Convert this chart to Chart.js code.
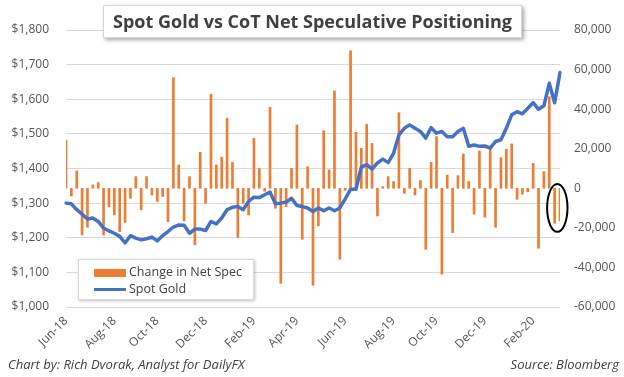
<!DOCTYPE html>
<html>
<head>
<meta charset="utf-8">
<script src="https://cdn.jsdelivr.net/npm/chart.js@4.4.1/dist/chart.umd.min.js"></script>
<style>
  html, body { margin: 0; padding: 0; background: #fff; }
  #wrap { position: relative; width: 624px; height: 377px; overflow: hidden; font-family: 'Open Sans', sans-serif; }
  #c { position: absolute; left: 0; top: 0; }
  .title {
    position: absolute; left: 103px; top: 5px; width: 417px; height: 31px;
    background: #fff; border: 1px solid #d6d6d6; box-shadow: 2px 2px 4px rgba(0,0,0,0.35);
    color: #404040; font-weight: 700; font-size: 18px; line-height: 31px; text-align: center; white-space: nowrap;
  }
  .legend {
    position: absolute; left: 78px; top: 259px; width: 174px; height: 39px;
    background: #fff; border: 1px solid #d9d9d9; box-shadow: 1px 1px 3px rgba(0,0,0,0.25);
    color: #404040; font-size: 12.5px;
  }
  .legend .row { position: absolute; left: 15px; height: 18px; line-height: 18px; white-space: nowrap; }
  .legend .sw { display: inline-block; width: 32px; vertical-align: middle; margin-right: 3px; }
  .footer { position: absolute; top: 355px; font-size: 13px; font-style: italic; color: #404040; white-space: nowrap; }
</style>
</head>
<body>
<div id="wrap">
  <canvas id="c" width="624" height="377"></canvas>
  <div class="title">Spot Gold vs CoT Net Speculative Positioning</div>
  <div class="legend" id="legend"></div>
  <div class="footer" style="left:8px">Chart by: Rich Dvorak, Analyst for DailyFX</div>
  <div class="footer" style="right:5px">Source: Bloomberg</div>
</div>
<script>
/* ── Data ───────────────────────────────────────────────────── */
const firstWeek = '2018-06-05';   // weekly CoT reports, Tuesdays
const tickLabels = ['Jun-18', 'Aug-18', 'Oct-18', 'Dec-18', 'Feb-19', 'Apr-19',
                    'Jun-19', 'Aug-19', 'Oct-19', 'Dec-19', 'Feb-20'];

// Change in net speculative positioning (contracts), right axis
const netSpec = [
  24400, -3900, 8800, -23600, -19700, 1700, 2900, -23600, -9300, -13500,
  -21900, -17300, -5100, 5900, -10900, 5900, -3400, -6700, -4200, -16800,
  55900, 11800, -16500, 5900, -28600, 18200, -7600, 47500, 11800, 15700,
  35400, 13100, -24900, -7600, -13500, 25300, 10100, -1500, 40900, -10100,
  -48000, -9300, 10100, 32000, -25800, 10900, -49000, -19000, 29100, 9300,
  49200, -35900, -1000, 69500, 28300, 20200, 32300, 22700, -14000, 800,
  5900, 3400, 38200, -2500, 10100, -3400, 3900, -30800, 13100, 26100,
  -43400, 6700, -22400, 6400, 17300, 3400, -13100, 18900, -14600, 19900,
  -19700, 15500, 19700, 22400, -5600, -3000, -1700, 12600, -30300, 8400,
  46300, -17700, -16500
];

// Spot gold (USD/oz), left axis
const spotGold = [
  1300, 1298, 1281, 1268, 1254, 1257, 1247, 1228, 1220, 1213,
  1204, 1185, 1206, 1199, 1194, 1197, 1202, 1191, 1206, 1218,
  1231, 1237, 1236, 1213, 1225, 1225, 1221, 1247, 1240, 1257,
  1281, 1288, 1290, 1281, 1305, 1317, 1316, 1324, 1332, 1298,
  1300, 1303, 1314, 1293, 1290, 1286, 1276, 1286, 1278, 1286,
  1278, 1286, 1312, 1340, 1340, 1404, 1411, 1398, 1416, 1427,
  1417, 1444, 1497, 1516, 1526, 1516, 1507, 1488, 1518, 1502,
  1507, 1492, 1492, 1507, 1516, 1464, 1468, 1464, 1465, 1459,
  1478, 1483, 1516, 1555, 1564, 1558, 1574, 1590, 1571, 1581,
  1646, 1590, 1677
];

// Last two weeks circled on the chart
const circled = [91, 92];
const circledRange = [-22000, 2200];

/* ── Weekly category labels ─────────────────────────────────── */
const MONTHS = ['Jan','Feb','Mar','Apr','May','Jun','Jul','Aug','Sep','Oct','Nov','Dec'];
const weeks = [];
for (let i = 0; i < netSpec.length; i++) {
  const d = new Date(firstWeek + 'T00:00:00Z');
  d.setUTCDate(d.getUTCDate() + 7 * i);
  weeks.push(d);
}
const labels = weeks.map(d => d.toISOString().slice(0, 10));

function tickFor(i) {
  const d = weeks[i];
  if (d.getUTCDate() > 7 && i !== 0) return '';
  const lbl = MONTHS[d.getUTCMonth()] + '-' + String(d.getUTCFullYear()).slice(2);
  return tickLabels.includes(lbl) ? lbl : '';
}

/* ── Colours ────────────────────────────────────────────────── */
const ORANGE = '#ED7D31';
const BLUE   = '#4472C4';
const TEXT   = '#555555';
const GRID   = '#D9D9D9';

document.getElementById('legend').innerHTML = `
  <div class="row" style="top:3px"><span class="sw" style="height:8px;background:${ORANGE}"></span>Change in Net Spec</div>
  <div class="row" style="top:20px"><span class="sw" style="height:3.5px;background:${BLUE}"></span>Spot Gold</div>`;

/* ── Ellipse around the latest readings ─────────────────────── */
const circlePlugin = {
  id: 'circle',
  afterDatasetsDraw(chart) {
    const x = chart.scales.x, y1 = chart.scales.y1, ctx = chart.ctx;
    const xa = x.getPixelForValue(circled[0]), xb = x.getPixelForValue(circled[1]);
    const ya = y1.getPixelForValue(circledRange[1]), yb = y1.getPixelForValue(circledRange[0]);
    ctx.save();
    ctx.beginPath();
    ctx.ellipse((xa + xb) / 2, (ya + yb) / 2, (xb - xa) / 2 + 7.5, (yb - ya) / 2, 0, 0, Math.PI * 2);
    ctx.lineWidth = 2;
    ctx.strokeStyle = '#000';
    ctx.stroke();
    ctx.restore();
  }
};

/* ── Chart ──────────────────────────────────────────────────── */
const font = { family: "'Open Sans', sans-serif", size: 12 };

new Chart(document.getElementById('c'), {
  data: {
    labels,
    datasets: [
      {
        type: 'line', label: 'Spot Gold', data: spotGold, yAxisID: 'y',
        borderColor: BLUE, borderWidth: 3.5, pointRadius: 0, tension: 0, order: 0,
        borderJoinStyle: 'round', borderCapStyle: 'round'
      },
      {
        type: 'bar', label: 'Change in Net Spec', data: netSpec, yAxisID: 'y1',
        backgroundColor: ORANGE, barThickness: 2, order: 1
      }
    ]
  },
  options: {
    responsive: false,
    animation: false,
    devicePixelRatio: 1,
    layout: { padding: { top: 30, left: 0, right: 0, bottom: 0 } },
    plugins: { legend: { display: false }, tooltip: { enabled: false } },
    scales: {
      x: {
        offset: false,
        grid: { display: false, drawTicks: false },
        border: { display: false },
        ticks: {
          autoSkip: false, minRotation: 45, maxRotation: 45, padding: 7,
          color: TEXT, font: { family: font.family, size: 12 },
          callback: (v, i) => tickFor(i)
        },
        afterFit: s => { s.height = 70; }
      },
      y: {
        position: 'left', min: 1000, max: 1800,
        grid: { color: GRID, drawTicks: false },
        border: { display: false },
        ticks: {
          stepSize: 100, padding: 17, color: TEXT, font,
          callback: v => '$' + v.toLocaleString('en-US')
        },
        afterFit: s => { s.width = 66; }
      },
      y1: {
        position: 'right', min: -60000, max: 80000,
        grid: { display: false, drawTicks: false },
        border: { display: false },
        ticks: {
          stepSize: 20000, padding: 14, color: TEXT, font,
          callback: v => v.toLocaleString('en-US')
        },
        afterFit: s => { s.width = 64; }
      }
    }
  },
  plugins: [circlePlugin]
});
</script>
</body>
</html>
